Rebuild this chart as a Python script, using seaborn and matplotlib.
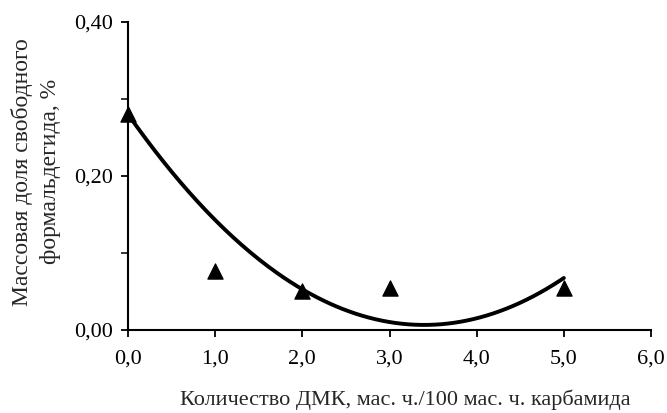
import numpy as np
import pandas as pd
import matplotlib
matplotlib.use("Agg")
import matplotlib.pyplot as plt
import seaborn as sns

# data
dmk = [0.0, 1.0, 2.0, 3.0, 5.0]
formaldehyde = [0.28, 0.076, 0.050, 0.055, 0.054]
# polynomial trend line (2nd order), coefficients
trend_coef = [0.0237, -0.161, 0.28]
trend_range = [0.0, 5.0]

x_ticks = [0, 1, 2, 3, 4, 5, 6]
y_ticks = [0.0, 0.2, 0.4]
y_minor = [0.1, 0.3]

sns.set_style("ticks")
plt.rcParams['font.family'] = ['Liberation Serif', 'DejaVu Serif']

points = pd.DataFrame({'x': dmk, 'y': formaldehyde})
xs = np.linspace(trend_range[0], trend_range[1], 200)
trend = pd.DataFrame({'x': xs, 'y': np.polyval(trend_coef, xs)})

fig = plt.figure(figsize=(6.67, 4.13), dpi=100)
ax = fig.add_axes([0.192, 0.201, 0.784, 0.746])

sns.lineplot(data=trend, x='x', y='y', ax=ax, color='black', linewidth=2.8)
sns.scatterplot(data=points, x='x', y='y', ax=ax, marker='^', color='black',
                s=120, edgecolor='black', zorder=3, clip_on=False)

ax.set_xlim(0, 6)
ax.set_ylim(0, 0.4)
ax.set_xticks(x_ticks)
ax.set_xticklabels([f"{v:.1f}".replace('.', ',') for v in x_ticks])
ax.set_yticks(y_ticks)
ax.set_yticklabels([f"{v:.2f}".replace('.', ',') for v in y_ticks])
ax.set_yticks(y_minor, minor=True)

ax.tick_params(axis='both', which='major', labelsize=16, length=5, width=1.3,
               direction='out', colors='black')
ax.tick_params(axis='x', pad=9)
ax.tick_params(axis='y', pad=6)
ax.tick_params(axis='y', which='minor', length=5, width=1.3)
for s in ['left', 'bottom']:
    ax.spines[s].set_linewidth(1.5)
    ax.spines[s].set_color('black')
sns.despine(ax=ax)

ax.set_xlabel("Количество ДМК, мас. ч./100 мас. ч. карбамида", fontsize=16, va='center')
ax.set_ylabel("Массовая доля свободного\nформальдегида, %", fontsize=17, va='center',
              linespacing=1.45)
ax.xaxis.set_label_coords(0.53, -0.225)
ax.yaxis.set_label_coords(-0.176, 0.513)

fig.savefig("out.png", dpi=100)
